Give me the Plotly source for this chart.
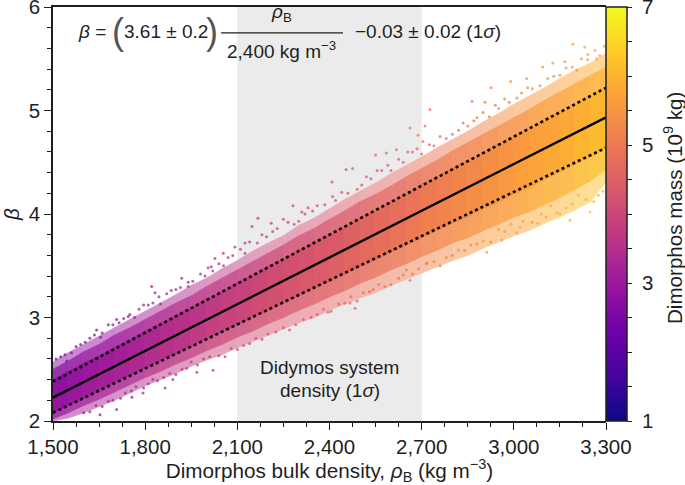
import plotly.graph_objects as go
from plotly.colors import sample_colorscale
import re

# Values: cloud envelope by density
density = [1500,1550,1600,1650,1700,1750,1800,1850,1900,1950,2000,2050,2100,2150,2200,2250,2300,2350,2400,2450,2500,2550,2600,2650,2700,2750,2800,2850,2900,2950,3000,3050,3100,3150,3200,3250,3300]
beta_center = [2.23,2.30,2.38,2.45,2.53,2.60,2.68,2.75,2.83,2.90,2.98,3.05,3.13,3.20,3.28,3.35,3.43,3.50,3.58,3.65,3.73,3.80,3.88,3.95,4.03,4.10,4.18,4.25,4.33,4.40,4.48,4.55,4.63,4.70,4.78,4.85,4.93]
beta_core_high = [2.40,2.48,2.56,2.63,2.71,2.79,2.87,2.94,3.02,3.10,3.18,3.25,3.34,3.41,3.50,3.57,3.65,3.73,3.81,3.88,3.97,4.04,4.12,4.20,4.29,4.36,4.45,4.52,4.60,4.68,4.76,4.83,4.92,4.99,5.07,5.15,5.23]
beta_mid_high = [2.50,2.58,2.67,2.74,2.83,2.90,2.98,3.06,3.14,3.21,3.30,3.38,3.46,3.54,3.62,3.70,3.79,3.86,3.95,4.03,4.12,4.19,4.27,4.36,4.44,4.52,4.61,4.69,4.77,4.85,4.93,5.01,5.10,5.18,5.26,5.34,5.42]
beta_outer_high = [2.57,2.66,2.74,2.82,2.90,2.98,3.06,3.14,3.22,3.31,3.38,3.47,3.55,3.64,3.72,3.79,3.89,3.96,4.05,4.14,4.22,4.30,4.39,4.47,4.55,4.64,4.72,4.80,4.89,4.97,5.06,5.14,5.22,5.31,5.39,5.46,5.55]
beta_core_low = [2.08,2.15,2.22,2.29,2.37,2.44,2.51,2.58,2.65,2.72,2.79,2.86,2.93,3.00,3.07,3.14,3.21,3.28,3.35,3.42,3.49,3.56,3.63,3.70,3.77,3.84,3.91,3.97,4.05,4.11,4.19,4.25,4.33,4.40,4.48,4.55,4.63]
beta_mid_low = [2.02,2.08,2.15,2.21,2.28,2.35,2.42,2.48,2.55,2.61,2.68,2.74,2.81,2.87,2.94,3.00,3.07,3.13,3.20,3.26,3.33,3.39,3.46,3.52,3.59,3.65,3.72,3.77,3.84,3.90,3.97,4.02,4.09,4.16,4.24,4.32,4.43]
beta_outer_low = [2.00,2.03,2.08,2.14,2.20,2.27,2.34,2.40,2.46,2.53,2.59,2.64,2.71,2.77,2.83,2.89,2.95,3.00,3.07,3.13,3.19,3.24,3.31,3.37,3.43,3.49,3.55,3.60,3.67,3.73,3.79,3.84,3.91,3.97,4.04,4.12,4.31]
mass_center = [2.8,2.9,3.0,3.1,3.15,3.25,3.35,3.45,3.55,3.65,3.75,3.85,3.9,4.0,4.1,4.2,4.25,4.35,4.4,4.5,4.6,4.7,4.8,4.9,5.0,5.1,5.2,5.3,5.35,5.45,5.55,5.65,5.75,5.8,5.9,6.0,6.1]

# Individually read stray points along the cloud's edges
stray_rho = [1539,1642,1707,1821,1919,1832,2005,2054,2027,1940,1707,1793,1865,1968,2021,1890,1653,1757,
             2662,2688,2454,2475,2408,2167,2148,2210,2281,2550,2585,2618,2125,2092,2310,2704,2467,2483,2395,2662,2717,2640,2542,
             2727,2711,2864,2926,2906,3042,3094,3127,3166,3192,3231,3264,3241,2990,2951,3183,3248,3140,2912,2961,3078,3020,
             1510,1560,1590,1620,1660,1680,1730,1750,1780,1810,1850,1870,1900,1940,1980,2020,2040,2070,2110,2140,2180,2230,2250,2300,2330,2360,2420,2440,2490,2520,2570,2600,2640,2670,2700,2740,2780,2820,2850,2880,2920,2970,3010,3060,3110,3150,3190,3220,3270,3295,
             1600,1640,1680,1720,1770,1810,1840,1880,1920,1950,1990,2040,2080,2120,2160,2200,2250,2290,2340,2380,2430,2470,2510,2560,2600,2650,2690,2740,2780,2820,2860,2900,2950,2990,3030,3090,3120,3170,3210,3260,3290,
             1525,1545,1575,1605,1635,1655,1695,1715,1745,1765,1795,1825,1845,1885,1915,1955,1995,2015,2055,2085,2125,2165,2195,2215,2265,2285,2320,2345,2385,2410,2460,2505,2535,2555,2590,2625,2655,2685,2725,2760,2800,2835,2870,2900,2940,2985,3025,3045,3085,3130,3170,3205,3240,3280,
             1620,1660,1695,1735,1755,1795,1825,1860,1900,1935,1970,2010,2060,2100,2140,2180,2225,2270,2315,2360,2405,2450,2490,2530,2580,2625,2670,2715,2760,2800,2840,2880,2925,2970,3010,3060,3105,3150,3190,3235,3275]
stray_beta = [2.64,2.88,2.98,3.30,3.38,3.24,3.48,3.62,3.57,3.34,2.11,2.27,2.32,2.47,2.49,2.40,2.06,2.23,
              4.83,4.76,4.43,4.44,4.31,3.96,3.88,3.91,4.08,4.57,4.59,4.62,3.72,3.68,4.02,4.70,3.14,3.09,3.05,3.36,3.53,3.41,3.27,
              5.01,4.85,5.09,5.22,5.08,5.31,5.42,5.46,5.47,5.64,5.61,5.58,5.54,5.28,5.02,3.94,4.02,4.01,3.63,3.75,3.91,3.87,
              2.60,2.66,2.74,2.80,2.85,2.93,2.99,3.03,3.08,3.12,3.13,3.23,3.27,3.30,3.42,3.45,3.52,3.58,3.66,3.73,3.80,3.86,3.95,3.93,4.06,4.08,4.13,4.21,4.24,4.36,4.42,4.42,4.50,4.60,4.58,4.66,4.73,4.81,4.85,4.93,4.94,5.11,5.12,5.21,5.31,5.34,5.42,5.50,5.50,5.62,
              2.08,2.15,2.19,2.22,2.33,2.36,2.39,2.46,2.50,2.57,2.60,2.63,2.70,2.73,2.80,2.84,2.90,2.93,3.00,3.08,3.13,3.20,3.24,3.32,3.32,3.46,3.47,3.54,3.58,3.65,3.70,3.74,3.85,3.90,3.93,4.00,4.08,4.06,4.18,4.12,4.22,
              2.62,2.58,2.72,2.76,2.83,2.81,2.93,2.95,3.01,3.00,3.12,3.14,3.20,3.26,3.29,3.35,3.40,3.49,3.50,3.60,3.62,3.72,3.78,3.83,3.92,3.90,4.00,4.03,4.09,4.17,4.20,4.28,4.34,4.42,4.47,4.53,4.60,4.63,4.67,4.75,4.77,4.88,4.90,4.98,5.05,5.08,5.17,5.22,5.24,5.33,5.41,5.39,5.49,5.53,
              2.09,2.14,2.20,2.27,2.29,2.32,2.40,2.42,2.45,2.51,2.54,2.62,2.62,2.69,2.75,2.79,2.86,2.88,2.98,3.03,3.06,3.14,3.16,3.25,3.30,3.38,3.42,3.52,3.50,3.60,3.65,3.71,3.73,3.83,3.82,3.92,3.97,4.00,4.10,4.14,4.18]
stray_mass = [2.7,2.8,2.9,3.2,3.4,3.2,3.6,3.7,3.6,3.5,3.1,3.3,3.4,3.8,3.9,3.5,3.0,3.2,
              4.9,5.0,4.4,4.5,4.3,3.8,3.8,3.9,4.0,4.6,4.7,4.7,3.8,3.7,4.1,4.9,4.7,4.7,4.6,5.1,5.2,5.0,4.9,
              4.9,4.9,5.1,5.2,5.2,5.4,5.5,5.6,5.6,5.7,5.8,5.8,5.8,5.3,5.2,6.0,6.2,5.9,5.5,5.6,5.8,5.7,
              2.7,2.8,2.8,2.9,3.0,3.0,3.1,3.2,3.2,3.3,3.3,3.4,3.4,3.5,3.5,3.6,3.6,3.7,3.8,3.8,3.9,4.0,4.0,4.1,4.1,4.2,4.2,4.3,4.4,4.4,4.5,4.5,4.6,4.7,4.7,4.8,4.9,4.9,5.0,5.0,5.1,5.2,5.3,5.4,5.4,5.5,5.6,5.6,5.7,5.8,
              3.1,3.2,3.2,3.3,3.4,3.5,3.5,3.6,3.7,3.7,3.8,3.9,4.0,4.1,4.1,4.2,4.3,4.4,4.5,4.6,4.6,4.7,4.8,4.9,4.9,5.0,5.2,5.2,5.3,5.4,5.4,5.5,5.6,5.7,5.7,5.8,5.9,6.0,6.1,6.2,6.2,
              2.7,2.7,2.8,2.8,2.9,2.9,3.0,3.0,3.1,3.1,3.2,3.2,3.3,3.3,3.4,3.4,3.5,3.5,3.6,3.6,3.7,3.8,3.8,3.9,3.9,4.0,4.0,4.1,4.1,4.2,4.3,4.3,4.4,4.4,4.5,4.5,4.6,4.7,4.7,4.8,4.8,4.9,4.9,5.0,5.1,5.1,5.2,5.3,5.3,5.4,5.5,5.5,5.6,5.7,
              3.2,3.2,3.3,3.3,3.4,3.4,3.5,3.6,3.6,3.7,3.7,3.8,3.9,4.0,4.0,4.1,4.2,4.3,4.3,4.4,4.5,4.6,4.6,4.7,4.8,4.9,4.9,5.0,5.1,5.1,5.2,5.3,5.3,5.4,5.5,5.6,5.7,5.8,5.9,5.9,6.0]

fit_density = [1500, 3300]
fit_beta = [2.226, 4.934]
fit_beta_high = [2.38, 5.22]
fit_beta_low = [2.08, 4.64]

grey_span = [2100, 2700]
x_ticks = [1500, 1800, 2100, 2400, 2700, 3000, 3300]
x_tick_text = ["1,500", "1,800", "2,100", "2,400", "2,700", "3,000", "3,300"]
cbar_ticks = [1, 1.5, 2, 2.5, 3, 3.5, 4, 4.5, 5, 5.5, 6, 6.5, 7]
cbar_tick_text = ["\u00a01", "", "", "", "\u00a03", "", "", "", "\u00a05", "", "", "", "\u00a07"]
cmin, cmax = 1, 7

FONT = "Liberation Sans"
INK = "#1f1f1f"
TICK = 20.5
TITLE = 19
AXIS_TITLE = 20.7
PLOT_FRACTION = 414 / 421


def colour(m, alpha=1.0):
    rgb = sample_colorscale("Plasma", [(m - cmin) / (cmax - cmin)])[0]
    r, g, b = [float(v) for v in re.findall(r"[\d.]+", rgb)[:3]]
    mix = lambda v: round(alpha * v + (1 - alpha) * 255)
    return f"rgb({mix(r)},{mix(g)},{mix(b)})"


fig = go.Figure()
bands = [
    (beta_mid_high, beta_outer_high, -0.15, 0.5),
    (beta_mid_low, beta_outer_low, 0.15, 0.5),
    (beta_core_high, beta_mid_high, -0.12, 0.85),
    (beta_core_low, beta_mid_low, 0.12, 0.85),
    (beta_center, beta_core_high, -0.05, 1.0),
    (beta_core_low, beta_center, 0.05, 1.0),
]
for a, b, dm, alpha in bands:
    for i in range(len(density) - 1):
        m = (mass_center[i] + mass_center[i + 1]) / 2 + dm
        c = colour(m, alpha)
        fig.add_trace(go.Scatter(
            x=[density[i], density[i + 1], density[i + 1], density[i], density[i]],
            y=[a[i], a[i + 1], b[i + 1], b[i], a[i]],
            mode="lines", fill="toself", fillcolor=c,
            line=dict(width=0.8, color=c),
            hoverinfo="skip", showlegend=False))

fig.add_trace(go.Scatter(
    x=stray_rho, y=stray_beta, mode="markers", showlegend=False,
    marker=dict(size=3, opacity=0.75, color=stray_mass, colorscale="Plasma", cmin=cmin, cmax=cmax,
                line=dict(width=0),
                colorbar=dict(
                    x=553 / 574, xref="paper", xanchor="left", y=0, yanchor="bottom", yref="paper",
                    len=PLOT_FRACTION, lenmode="fraction", thickness=21, thicknessmode="pixels",
                    outlinecolor=INK, outlinewidth=1.5, xpad=0, ypad=0,
                    tickvals=cbar_ticks, ticktext=cbar_tick_text,
                    ticks="outside", ticklen=5, tickwidth=1.2, tickcolor=INK, ticklabeloverflow="allow",
                    tickfont=dict(family=FONT, size=TICK, color=INK)))))

fig.add_trace(go.Scatter(x=fit_density, y=fit_beta, mode="lines", showlegend=False,
                         line=dict(color="black", width=2.4)))
for yy in (fit_beta_high, fit_beta_low):
    fig.add_trace(go.Scatter(x=fit_density, y=yy, mode="lines", showlegend=False,
                             line=dict(color="black", width=2.6, dash="dot")))

fig.add_shape(type="rect", x0=grey_span[0], x1=grey_span[1], y0=2, y1=6, layer="below",
              fillcolor="#ebebeb", line_width=0)
fig.add_shape(type="line", x0=2047, x1=2444, y0=5.75, y1=5.75, line=dict(color=INK, width=1.4))


def note(x, y, text, size=TITLE, anchor="left", color=INK):
    fig.add_annotation(x=x, y=y, text=text, showarrow=False, xanchor=anchor, yanchor="middle",
                       font=dict(family=FONT, size=size, color=color), align="center")


note(1575, 5.76, "<i>β</i> =")
note(1685, 5.76, "(", size=36, color="#555555")
note(1724, 5.76, "3.61 ± 0.2")
note(2045, 5.76, ")", size=36, anchor="right", color="#555555")
note(2245, 5.94, "<i>ρ</i><sub>B</sub>", anchor="center")
note(2245, 5.58, "2,400 kg m<sup>−3</sup>", anchor="center")
note(2478, 5.76, "−0.03 ± 0.02 (1<i>σ</i>)")
note(2400, 2.52, "Didymos system", anchor="center")
note(2400, 2.29, "density (1<i>σ</i>)", anchor="center")
fig.add_annotation(xref="paper", yref="paper", x=(673 - 53) / 574, y=(421 - 208) / 421, showarrow=False,
                   text="Dimorphos mass (10<sup>9</sup> kg)", textangle=-90, xanchor="center", yanchor="middle",
                   font=dict(family=FONT, size=20.6, color=INK))

fig.update_layout(
    width=685, height=485,
    margin=dict(l=53, r=58, t=0, b=64, autoexpand=False),
    paper_bgcolor="white", plot_bgcolor="white",
    font=dict(family=FONT, size=TICK, color=INK),
    showlegend=False,
    xaxis=dict(domain=[0, 553 / 574], range=[1500, 3300], tickvals=x_ticks, ticktext=x_tick_text,
               automargin=False,
               ticks="outside", ticklen=7, tickwidth=1.3, tickcolor=INK, showgrid=False, zeroline=False,
               showline=True, linecolor=INK, linewidth=1.5, mirror=True,
               minor=dict(dtick=75, tick0=1500, ticks="outside", ticklen=4, tickwidth=1, tickcolor=INK, showgrid=False),
               tickfont=dict(size=TICK), title=dict(text="Dimorphos bulk density, <i>ρ</i><sub>B</sub> (kg m<sup>−3</sup>)",
                                                  font=dict(size=AXIS_TITLE), standoff=6)),
    yaxis=dict(domain=[0, PLOT_FRACTION], range=[2, 6], tickmode="linear", tick0=2, dtick=1, ticks="outside", ticklen=7, tickwidth=1.3, tickcolor=INK,
               automargin=False, ticklabeloverflow="allow",
               showgrid=False, zeroline=False, showline=True, linecolor=INK, linewidth=1.5,
               minor=dict(dtick=0.2, tick0=2, ticks="outside", ticklen=4, tickwidth=1, tickcolor=INK, showgrid=False),
               tickfont=dict(size=TICK), title=dict(text="<i>β</i>", font=dict(size=AXIS_TITLE), standoff=8)),
)

fig.write_html("out.html", post_script="document.body.style.margin='0';", config={"displayModeBar": False})
